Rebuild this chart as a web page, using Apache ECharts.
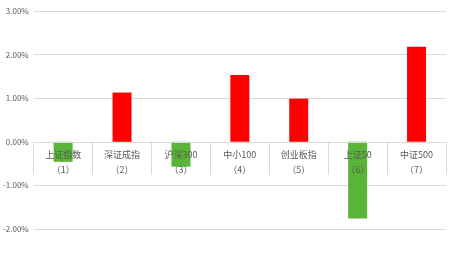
<!DOCTYPE html>
<html><head><meta charset="utf-8">
<script src="https://cdn.jsdelivr.net/npm/echarts@6/dist/echarts.min.js"></script>
<style>html,body{margin:0;padding:0;background:#fff}#c{width:452px;height:256px}</style>
</head><body><div id="c"></div>
<script>
const categories = ['上证指数\n（1）','深证成指\n（2）','沪深300\n（3）','中小100\n（4）','创业板指\n（5）','上证50\n（6）','中证500\n（7）'];
const values = [-0.46, 1.13, -0.57, 1.53, 0.99, -1.76, 2.18];
const yTicks = {min: -2, max: 3, interval: 1};

const chart = echarts.init(document.getElementById('c'), null, {renderer: 'canvas'});
chart.setOption({
  animation: false,
  grid: {left: 30, right: 6, top: 11, bottom: 27},
  xAxis: {
    type: 'category', data: categories, z: 5,
    axisLine: {onZero: true, lineStyle: {color: '#d9d9d9', width: 1}},
    axisTick: {show: true, length: 33, lineStyle: {color: '#d9d9d9'}},
    axisLabel: {margin: 3, fontSize: 9, lineHeight: 15, color: '#595959', fontFamily: 'Noto Sans CJK SC', interval: 0}
  },
  yAxis: {
    type: 'value', min: yTicks.min, max: yTicks.max, interval: yTicks.interval,
    axisLine: {show: false}, axisTick: {show: false},
    splitLine: {lineStyle: {color: '#d9d9d9', width: 1}},
    axisLabel: {fontSize: 8, color: '#595959', margin: 5, fontFamily: 'Noto Sans CJK SC', formatter: v => v.toFixed(2) + '%'}
  },
  series: [{
    type: 'bar', barWidth: 19,
    data: values.map(v => ({value: v, itemStyle: {color: v >= 0 ? '#ff0000' : '#5ab436'}}))
  }]
});
// place category labels right under the zero line
const zeroY = chart.convertToPixel({yAxisIndex: 0}, 0);
const bottomY = chart.convertToPixel({yAxisIndex: 0}, yTicks.min);
chart.setOption({xAxis: {axisLabel: {margin: 3 - (bottomY - zeroY)}}});
</script></body></html>
